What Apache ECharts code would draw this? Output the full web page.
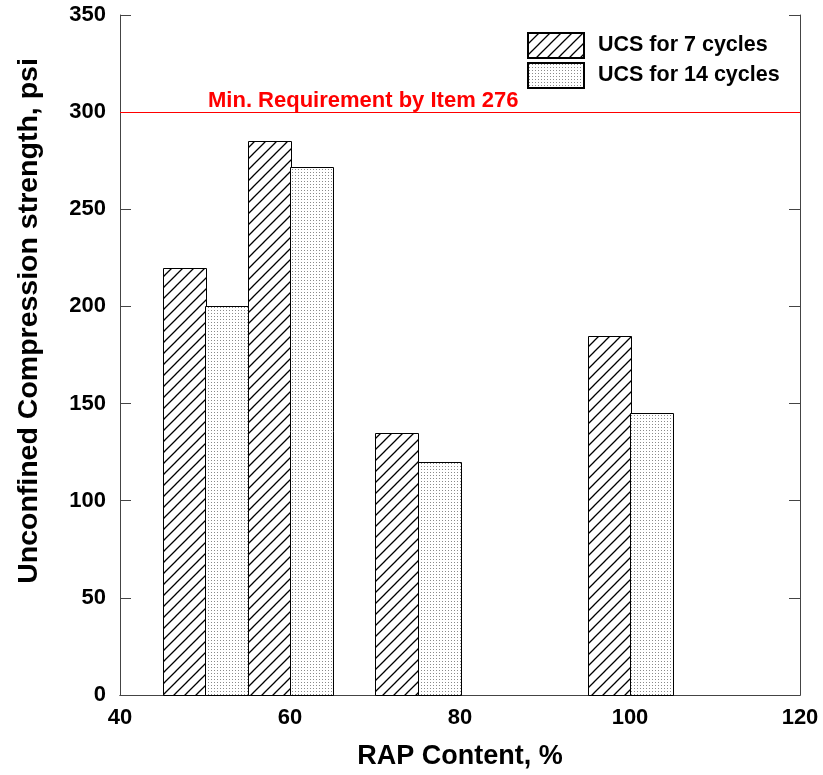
<!DOCTYPE html>
<html>
<head>
<meta charset="utf-8">
<script src="https://cdn.jsdelivr.net/npm/echarts@6/dist/echarts.min.js"></script>
<style>
  html, body { margin: 0; padding: 0; background: #fff; }
  #chart { width: 823px; height: 775px; }
</style>
</head>
<body>
<div id="chart"></div>
<script>
// RAP content (%) at the centre of each pair of bars
const rapContent = [50, 60, 75, 100];
// Unconfined compression strength (psi)
const ucs7 = [220, 285, 135, 185];
const ucs14 = [200, 272, 120, 145];
const seriesNames = ['UCS for 7 cycles', 'UCS for 14 cycles'];
const minRequirement = 300;
const minRequirementLabel = 'Min. Requirement by Item 276';
const xTicks = { min: 40, max: 120, interval: 20 };
const yTicks = { min: 0, max: 350, interval: 50 };

const FONT = '"Liberation Sans", Arial, Helvetica, sans-serif';
const BAR_W = 5; // bar width in RAP-% units

// Diagonal hatch tile
function hatchPattern() {
  const s = 11;
  const c = document.createElement('canvas');
  c.width = s; c.height = s;
  const g = c.getContext('2d');
  g.fillStyle = '#fff'; g.fillRect(0, 0, s, s);
  g.strokeStyle = '#000'; g.lineWidth = 1.3;
  g.beginPath();
  g.moveTo(-1, s + 1); g.lineTo(s + 1, -1);
  g.moveTo(-1, 1); g.lineTo(1, -1);
  g.moveTo(s - 1, s + 1); g.lineTo(s + 1, s - 1);
  g.stroke();
  return { image: c, repeat: 'repeat' };
}
// Fine stipple tile
function dotPattern() {
  const c = document.createElement('canvas');
  c.width = 3; c.height = 3;
  const g = c.getContext('2d');
  g.fillStyle = '#fff'; g.fillRect(0, 0, 3, 3);
  g.fillStyle = '#8a8a8a'; g.fillRect(1, 1, 1, 1);
  return { image: c, repeat: 'repeat' };
}

function barRenderer(offset) {
  return function (params, api) {
    const x = api.value(0);
    const topLeft = api.coord([x + offset, api.value(1)]);
    const botRight = api.coord([x + offset + BAR_W, 0]);
    return {
      type: 'rect',
      shape: {
        x: Math.round(topLeft[0]) + 0.5,
        y: Math.round(topLeft[1]) + 0.5,
        width: Math.round(botRight[0] - topLeft[0]),
        height: Math.round(botRight[1] - topLeft[1])
      },
      style: api.style()
    };
  };
}

const chart = echarts.init(document.getElementById('chart'));
const axisLine = { show: true, lineStyle: { color: '#444', width: 1 } };
const tickLabel = { fontFamily: FONT, fontWeight: 'bold', fontSize: 22, color: '#000' };
const titleStyle = { fontFamily: FONT, fontWeight: 'bold', fontSize: 27, color: '#000' };

chart.setOption({
  animation: false,
  backgroundColor: '#fff',
  grid: { left: 120, right: 23, top: 15, bottom: 80 },
  legend: {
    left: 522, top: 27, orient: 'vertical',
    itemWidth: 56, itemHeight: 25, itemGap: 3,
    icon: 'rect',
    textStyle: { fontFamily: FONT, fontWeight: 'bold', fontSize: 21.5, color: '#000', padding: [0, 0, 0, 9] },
    data: seriesNames
  },
  xAxis: [
    {
      type: 'value', min: xTicks.min, max: xTicks.max, interval: xTicks.interval,
      name: 'RAP Content, %', nameLocation: 'middle', nameGap: 48,
      nameTextStyle: titleStyle,
      axisLine: axisLine, axisTick: { show: false },
      axisLabel: Object.assign({ margin: 12 }, tickLabel),
      splitLine: { show: false }
    },
    {
      type: 'value', position: 'top', min: xTicks.min, max: xTicks.max, interval: xTicks.interval,
      axisLine: axisLine, axisTick: { show: false }, axisLabel: { show: false }, splitLine: { show: false }
    }
  ],
  yAxis: [
    {
      type: 'value', min: yTicks.min, max: yTicks.max, interval: yTicks.interval,
      name: 'Unconfined Compression strength, psi', nameLocation: 'middle', nameGap: 76,
      nameTextStyle: Object.assign({}, titleStyle, { fontSize: 28.5, padding: [0, 0, 0, 68] }),
      axisLine: axisLine,
      axisTick: { show: true, inside: true, length: 11, lineStyle: { color: '#444' } },
      axisLabel: Object.assign({ margin: 14 }, tickLabel),
      splitLine: { show: false }
    },
    {
      type: 'value', position: 'right', min: yTicks.min, max: yTicks.max, interval: yTicks.interval,
      axisLine: axisLine,
      axisTick: { show: true, inside: true, length: 11, lineStyle: { color: '#444' } },
      axisLabel: { show: false }, splitLine: { show: false }
    }
  ],
  series: [
    {
      name: seriesNames[0], type: 'custom', xAxisIndex: 0, yAxisIndex: 0,
      renderItem: barRenderer(-BAR_W),
      itemStyle: { color: hatchPattern(), borderColor: '#000', borderWidth: 1 },
      data: rapContent.map((x, i) => [x, ucs7[i]]),
      encode: { x: 0, y: 1 },
      markLine: {
        silent: true, symbol: 'none',
        lineStyle: { color: '#ff0000', width: 1, type: 'solid' },
        label: {
          show: true, position: 'insideStartTop', distance: [88, 0],
          formatter: minRequirementLabel,
          fontFamily: FONT, fontWeight: 'bold', fontSize: 22, color: '#ff0000'
        },
        data: [{ yAxis: minRequirement }]
      }
    },
    {
      name: seriesNames[1], type: 'custom', xAxisIndex: 0, yAxisIndex: 0,
      renderItem: barRenderer(0),
      itemStyle: { color: dotPattern(), borderColor: '#000', borderWidth: 1 },
      data: rapContent.map((x, i) => [x, ucs14[i]]),
      encode: { x: 0, y: 1 }
    }
  ]
});
</script>
</body>
</html>
